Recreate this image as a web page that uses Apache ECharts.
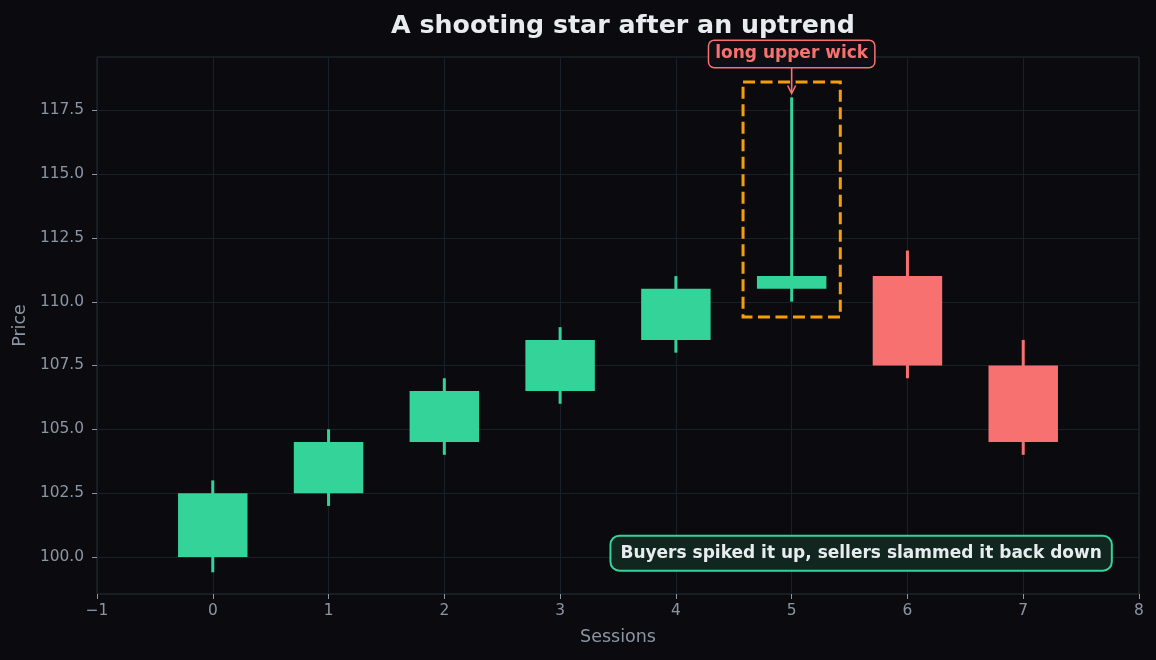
<!DOCTYPE html>
<html>
<head>
<meta charset="utf-8">
<script src="https://cdn.jsdelivr.net/npm/echarts@6/dist/echarts.min.js"></script>
<style>
  html, body { margin: 0; padding: 0; background: #0b0b0f; }
  #chart { width: 1156px; height: 660px; }
</style>
</head>
<body>
<div id="chart"></div>
<script>
// candle data: session, open, close, low, high
const sessions = [0, 1, 2, 3, 4, 5, 6, 7];
const opens  = [100.0, 102.5, 104.5, 106.5, 108.5, 110.5, 111.0, 107.5];
const closes = [102.5, 104.5, 106.5, 108.5, 110.5, 111.0, 107.5, 104.5];
const lows   = [99.4, 102.0, 104.0, 106.0, 108.0, 110.0, 107.0, 104.0];
const highs  = [103.0, 105.0, 107.0, 109.0, 111.0, 118.0, 112.0, 108.5];

const yTicks = [100, 102.5, 105, 107.5, 110, 112.5, 115, 117.5];

// highlight around the shooting star: session, bottom, top
const highlightBox = [5, 109.4, 118.6];
const wickLabel = { text: 'long upper wick', at: [5, 119.7], tip: [5, 118.15] };
const noteLabel = { text: 'Buyers spiked it up, sellers slammed it back down', at: [5.6, 100.15] };

const UP = '#34d399';
const DOWN = '#f87171';
const AXIS_TXT = '#8b96a5';
const FONT = '"DejaVu Sans", sans-serif';

const candleData = sessions.map((s, i) => [s, opens[i], closes[i], lows[i], highs[i]]);

const chart = echarts.init(document.getElementById('chart'));

const option = {
  backgroundColor: '#0b0b0f',
  animation: false,
  textStyle: { fontFamily: FONT },
  title: {
    text: 'A shooting star after an uptrend',
    left: 618,
    textAlign: 'center',
    top: 9,
    textStyle: { color: '#e8ecf0', fontSize: 25.3, fontWeight: 'bold', fontFamily: FONT }
  },
  grid: {
    left: 97, right: 17, top: 57, bottom: 66,
    show: true, borderColor: '#27303b', borderWidth: 1, backgroundColor: 'transparent'
  },
  xAxis: {
    type: 'value',
    min: -1, max: 8, interval: 1,
    name: 'Sessions',
    nameLocation: 'middle',
    nameGap: 34,
    nameTextStyle: { color: AXIS_TXT, fontSize: 17.5, fontFamily: FONT },
    axisLine: { show: false, onZero: false },
    axisTick: { show: true, length: 5, lineStyle: { color: AXIS_TXT, width: 1 } },
    axisLabel: {
      color: AXIS_TXT, fontSize: 15.4, margin: 9, fontFamily: FONT,
      formatter: v => (v < 0 ? '\u2212' + Math.abs(v) : String(v))
    },
    splitLine: { show: true, lineStyle: { color: '#18202a', width: 1 } }
  },
  yAxis: {
    type: 'value',
    min: 98.55, max: 119.58,
    name: 'Price',
    nameLocation: 'middle',
    nameGap: 66,
    nameTextStyle: { color: AXIS_TXT, fontSize: 17.5, fontFamily: FONT },
    axisLine: { show: false, onZero: false },
    axisTick: { show: false },
    axisLabel: {
      color: AXIS_TXT, fontSize: 15.4, margin: 13, fontFamily: FONT,
      customValues: yTicks,
      formatter: v => v.toFixed(1)
    },
    splitLine: { show: false }
  },
  series: [
    {
      // horizontal grid lines and left tick marks at the price ticks
      type: 'custom',
      silent: true,
      clip: false,
      z: 1,
      data: yTicks.map(v => [v]),
      renderItem: (params, api) => {
        const a = api.coord([-1, api.value(0)]);
        const b = api.coord([8, api.value(0)]);
        const y = Math.round(a[1]) + 0.5;
        return {
          type: 'group',
          children: [
            {
              type: 'line',
              shape: { x1: a[0], y1: y, x2: b[0], y2: y },
              style: { stroke: '#18202a', lineWidth: 1 }
            },
            {
              type: 'line',
              shape: { x1: a[0] - 5, y1: y, x2: a[0], y2: y },
              style: { stroke: AXIS_TXT, lineWidth: 1 }
            }
          ]
        };
      }
    },
    {
      type: 'custom',
      name: 'candles',
      z: 3,
      data: candleData,
      encode: { x: 0, y: [1, 2, 3, 4] },
      renderItem: (params, api) => {
        const x = api.value(0);
        const o = api.value(1), c = api.value(2), lo = api.value(3), hi = api.value(4);
        const color = c >= o ? UP : DOWN;
        const pLow = api.coord([x, lo]);
        const pHigh = api.coord([x, hi]);
        const pTop = api.coord([x, Math.max(o, c)]);
        const pBot = api.coord([x, Math.min(o, c)]);
        const w = api.size([0.6, 0])[0];
        return {
          type: 'group',
          children: [
            {
              type: 'rect',
              shape: { x: pLow[0] - 1.5, y: pHigh[1], width: 3, height: pLow[1] - pHigh[1] },
              style: { fill: color }
            },
            {
              type: 'rect',
              shape: { x: pTop[0] - w / 2, y: pTop[1], width: w, height: pBot[1] - pTop[1] },
              style: { fill: color }
            }
          ]
        };
      }
    },
    {
      type: 'custom',
      name: 'highlight',
      z: 4,
      silent: true,
      data: [highlightBox],
      renderItem: (params, api) => {
        const x = api.value(0);
        const tl = api.coord([x - 0.42, api.value(2)]);
        const br = api.coord([x + 0.42, api.value(1)]);
        return {
          type: 'rect',
          shape: { x: tl[0], y: tl[1], width: br[0] - tl[0], height: br[1] - tl[1] },
          style: { fill: null, stroke: '#f59e0b', lineWidth: 3, lineDash: [12, 5.5] }
        };
      }
    },
    {
      type: 'custom',
      name: 'annotations',
      z: 6,
      silent: true,
      clip: false,
      data: [[0]],
      renderItem: (params, api) => {
        const lp = api.coord(wickLabel.at);
        const tp = api.coord(wickLabel.tip);
        const np = api.coord(noteLabel.at);
        const startY = lp[1] + 14;
        return {
          type: 'group',
          children: [
            {
              type: 'line',
              shape: { x1: lp[0], y1: startY, x2: tp[0], y2: tp[1] - 1 },
              style: { stroke: DOWN, lineWidth: 1.6 }
            },
            {
              type: 'polyline',
              shape: { points: [[tp[0] - 4, tp[1] - 8], [tp[0], tp[1]], [tp[0] + 4, tp[1] - 8]] },
              style: { stroke: DOWN, lineWidth: 1.6, fill: null }
            },
            {
              type: 'text',
              x: lp[0], y: lp[1],
              style: {
                text: wickLabel.text,
                align: 'center', verticalAlign: 'middle',
                fill: DOWN,
                font: 'bold 17px "DejaVu Sans", sans-serif',
                backgroundColor: '#0e0f14',
                borderColor: DOWN, borderWidth: 1.5, borderRadius: 5,
                padding: [5, 6, 4, 6]
              }
            },
            {
              type: 'text',
              x: np[0], y: np[1],
              style: {
                text: noteLabel.text,
                align: 'center', verticalAlign: 'middle',
                fill: '#e8ecef',
                font: 'bold 17px "DejaVu Sans", sans-serif',
                backgroundColor: '#10261f',
                borderColor: UP, borderWidth: 2, borderRadius: 8,
                padding: [8, 9, 8, 9]
              }
            }
          ]
        };
      }
    }
  ]
};

chart.setOption(option);
window.addEventListener('resize', () => chart.resize());
</script>
</body>
</html>
